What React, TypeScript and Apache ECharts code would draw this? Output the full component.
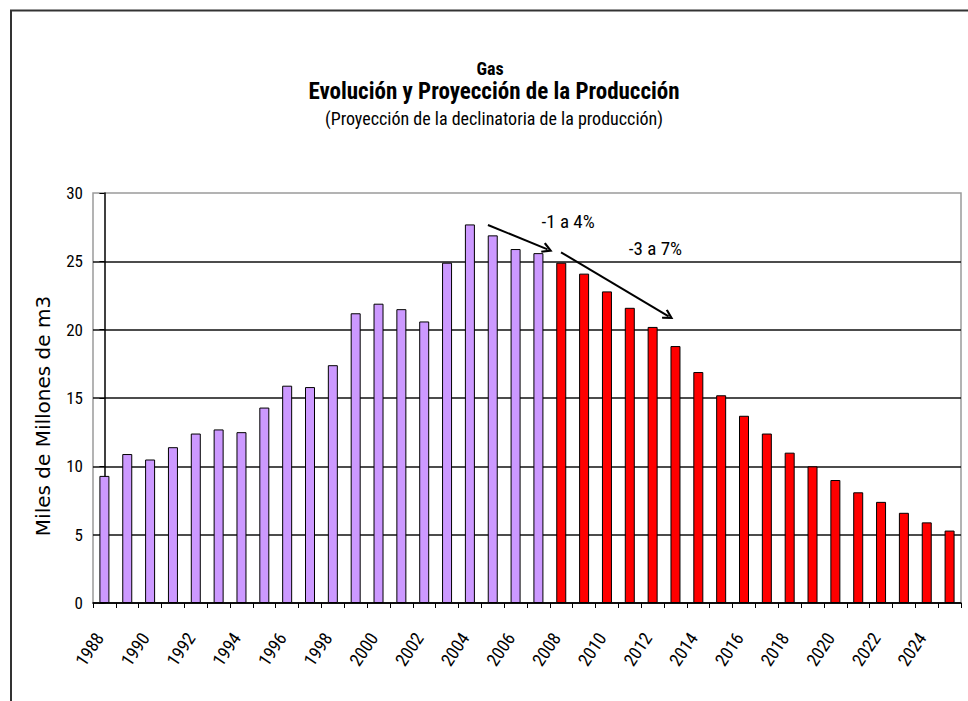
import React, { useEffect, useRef } from 'react';
import * as echarts from 'echarts';

const years = [
  '1988', '1989', '1990', '1991', '1992', '1993', '1994', '1995', '1996', '1997',
  '1998', '1999', '2000', '2001', '2002', '2003', '2004', '2005', '2006', '2007',
  '2008', '2009', '2010', '2011', '2012', '2013', '2014', '2015', '2016', '2017',
  '2018', '2019', '2020', '2021', '2022', '2023', '2024', '2025',
];

// 1988-2007 (historical production)
const historical = [
  9.3, 10.9, 10.5, 11.4, 12.4, 12.7, 12.5, 14.3, 15.9, 15.8,
  17.4, 21.2, 21.9, 21.5, 20.6, 24.9, 27.7, 26.9, 25.9, 25.6,
];

// 2008-2025 (projected decline)
const projection = [
  24.9, 24.1, 22.8, 21.6, 20.2, 18.8, 16.9, 15.2, 13.7, 12.4,
  11.0, 10.0, 9.0, 8.1, 7.4, 6.6, 5.9, 5.3,
];

const yTicks = { min: 0, max: 30, interval: 5 };

// arrows in data space: [category position, value]
const arrowSegments = [
  [[16.79, 27.66], [19.4, 25.88]],
  [[19.99, 25.66], [24.7, 20.98]],
];

const annotationLabels = ['-1 a 4%', '-3 a 7%'];
const annotationPoints = [[20.3, 27.94], [24.12, 25.91]];

const titleLines = [
  'Gas',
  'Evolución y Proyección de la Producción',
  '(Proyección de la declinatoria de la producción)',
];
const yAxisTitle = 'Miles de Millones de m3';

const NARROW = "'Liberation Sans Narrow', 'Arial Narrow', 'Roboto Condensed', sans-serif";
const CHEVRON = 'path://M5,0 L10,8.5 L8.4,9.6 L5,3.8 L1.6,9.6 L0,8.5 Z';

export default function App() {
  const ref = useRef<HTMLDivElement>(null);

  useEffect(() => {
    if (!ref.current) return;
    const chart = echarts.init(ref.current, undefined, { renderer: 'svg' });

    const histData = years.map((_, i) => (i < historical.length ? historical[i] : '-'));
    const projData = years.map((_, i) =>
      i >= historical.length ? projection[i - historical.length] : '-'
    );

    chart.setOption({
      animation: false,
      backgroundColor: '#ffffff',
      grid: {
        left: 93,
        right: 7,
        top: 193,
        bottom: 98,
        show: true,
        borderColor: '#9a9a9a',
        borderWidth: 1.5,
        containLabel: false,
      },
      graphic: [
        {
          type: 'rect',
          shape: { x: 11, y: 10.5, width: 1200, height: 1200 },
          style: { fill: 'none', stroke: '#333', lineWidth: 2 },
          silent: true,
        },
        {
          type: 'text',
          x: 490,
          y: 68,
          style: {
            text: titleLines[0],
            font: `bold 18px ${NARROW}`,
            fill: '#000',
            textAlign: 'center',
            textVerticalAlign: 'middle',
          },
        },
        {
          type: 'text',
          x: 494,
          y: 91,
          style: {
            text: titleLines[1],
            font: `bold 23px ${NARROW}`,
            fill: '#000',
            textAlign: 'center',
            textVerticalAlign: 'middle',
          },
        },
        {
          type: 'text',
          x: 494,
          y: 118,
          style: {
            text: titleLines[2],
            font: `18px ${NARROW}`,
            fill: '#000',
            textAlign: 'center',
            textVerticalAlign: 'middle',
          },
        },
        {
          type: 'text',
          x: 43,
          y: 416,
          rotation: Math.PI / 2,
          style: {
            text: yAxisTitle,
            font: "20px 'DejaVu Sans', sans-serif",
            fill: '#000',
            textAlign: 'center',
            textVerticalAlign: 'middle',
          },
        },
      ],
      xAxis: [
        {
          type: 'category',
          data: years,
          boundaryGap: true,
          axisLine: { show: true, lineStyle: { color: '#000', width: 1.5 } },
          axisTick: {
            show: true,
            alignWithLabel: false,
            interval: 0,
            length: 5,
            lineStyle: { color: '#000', width: 1 },
          },
          axisLabel: {
            interval: 1,
            rotate: 56,
            margin: 24,
            padding: [0, 9, 0, 0],
            color: '#000',
            fontSize: 18,
            fontFamily: NARROW,
          },
          splitLine: { show: false },
        },
        {
          type: 'value',
          min: -0.5,
          max: years.length - 0.5,
          show: false,
        },
      ],
      yAxis: {
        type: 'value',
        min: yTicks.min,
        max: yTicks.max,
        interval: yTicks.interval,
        axisLine: { show: true, lineStyle: { color: '#000', width: 1.5 } },
        axisTick: { show: true, length: 5, lineStyle: { color: '#000' } },
        axisLabel: { color: '#000', fontSize: 17, margin: 10, fontFamily: NARROW },
        splitLine: {
          show: true,
          showMaxLine: false,
          lineStyle: { color: '#111', width: 1.6 },
        },
      },
      series: [
        {
          name: 'Histórico',
          type: 'bar',
          xAxisIndex: 0,
          data: histData,
          barWidth: 10,
          barGap: '-100%',
          itemStyle: { color: '#CC99FF', borderColor: '#000', borderWidth: 1 },
        },
        {
          name: 'Proyección',
          type: 'bar',
          xAxisIndex: 0,
          data: projData,
          barWidth: 10,
          barGap: '-100%',
          itemStyle: { color: '#FF0000', borderColor: '#000', borderWidth: 1 },
        },
        {
          name: 'annotations',
          type: 'scatter',
          xAxisIndex: 1,
          yAxisIndex: 0,
          symbolSize: 0,
          silent: true,
          data: annotationPoints,
          markLine: {
            silent: true,
            symbol: ['none', CHEVRON],
            symbolSize: [11, 11],
            label: { show: false },
            lineStyle: { color: '#000', width: 2, type: 'solid' },
            data: arrowSegments.map((seg) => [{ coord: seg[0] }, { coord: seg[1] }]),
          },
          markPoint: {
            silent: true,
            symbol: 'circle',
            symbolSize: 1,
            itemStyle: { color: 'rgba(0,0,0,0)' },
            label: {
              show: true,
              position: 'inside',
              formatter: '{b}',
              color: '#000',
              fontSize: 19,
              fontFamily: NARROW,
            },
            data: annotationLabels.map((name, i) => ({ name, coord: annotationPoints[i] })),
          },
        },
      ],
    });

    return () => chart.dispose();
  }, []);

  return (
    <div
      ref={ref}
      style={{ position: 'fixed', left: 0, top: 0, width: 968, height: 701 }}
    />
  );
}
